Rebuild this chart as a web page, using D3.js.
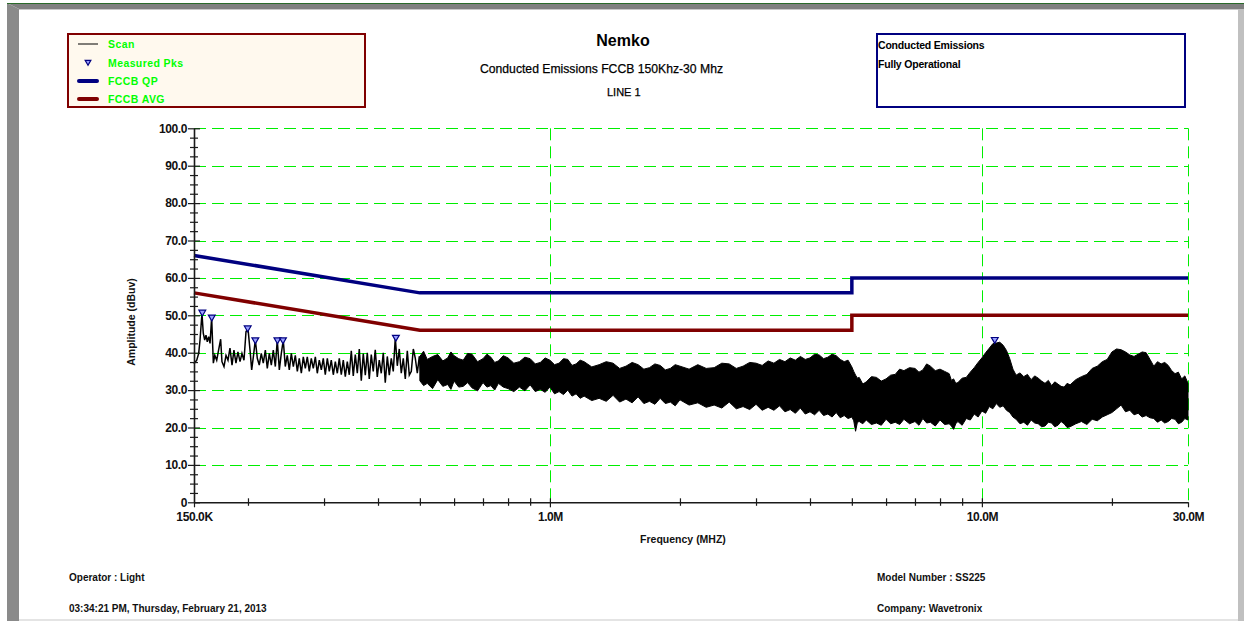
<!DOCTYPE html>
<html>
<head>
<meta charset="utf-8">
<script src="https://cdn.jsdelivr.net/npm/d3@7"></script>
<style>
  html, body { margin: 0; padding: 0; background: #fff; }
  svg { display: block; font-family: "Liberation Sans", Arial, sans-serif; }
</style>
</head>
<body>
<svg id="chart" width="1244" height="621"></svg>
<script>
/* === Conducted emissions scan (Nemko report) === */

// Limit lines (MHz / dBuV)
const limitMhz = [0.15, 0.5, 5, 5, 30];
const qpDb     = [66, 56, 56, 60, 60];
const avgDb    = [56, 46, 46, 50, 50];

// Scan, low band part: trace read point by point (kHz / dBuV)
const scanKhz = [150.0, 151.2, 152.2, 153.8, 154.9, 156.5, 157.6, 158.8, 159.9, 161.0,
  162.2, 163.4, 164.8, 166.3, 167.6, 169.3, 171.0, 172.9, 174.1, 176.0,
  177.9, 179.8, 181.7, 183.7, 185.6, 187.6, 189.6, 191.7, 193.7, 195.8,
  197.9, 200.0, 202.2, 204.0, 205.8, 208.0, 210.2, 212.4, 214.7, 217.0,
  219.4, 221.7, 224.1, 226.5, 228.9, 231.4, 233.8, 236.4, 238.9, 241.4,
  244.0, 246.6, 249.3, 252.0, 254.7, 257.4, 260.2, 262.9, 265.8, 268.6,
  271.5, 274.4, 277.3, 280.3, 283.3, 286.4, 289.4, 292.5, 295.7, 298.8,
  302.0, 305.3, 308.5, 311.8, 315.2, 318.6, 322.0, 325.4, 328.9, 332.4,
  336.0, 339.6, 343.2, 346.9, 350.6, 354.4, 358.2, 362.0, 365.9, 369.8,
  373.8, 377.8, 381.8, 385.9, 390.0, 394.2, 398.4, 402.7, 407.0, 411.4,
  415.8, 420.3, 424.8, 429.3, 433.9, 438.6, 443.3, 448.0, 452.8, 457.7,
  462.6, 467.6, 472.6, 477.7, 482.8, 488.0, 493.2, 498.5, 503.8];
const scanDb = [37.0, 37.6, 38.0, 39.8, 43.4, 50.5, 45.2, 43.4, 44.7, 42.9,
  44.3, 42.5, 49.4, 37.2, 39.3, 38.0, 40.7, 43.6, 37.6, 36.3,
  39.3, 38.0, 41.2, 36.7, 40.7, 37.2, 40.2, 37.6, 39.8, 38.0,
  45.6, 46.5, 40.7, 35.4, 38.9, 43.4, 38.5, 36.7, 39.8, 37.2,
  40.7, 35.8, 39.8, 36.7, 40.7, 36.3, 43.4, 35.4, 39.8, 43.4,
  36.3, 39.3, 35.4, 39.8, 36.3, 39.3, 35.0, 38.5, 34.5, 38.9,
  35.8, 38.9, 35.0, 38.5, 35.8, 38.9, 34.5, 38.0, 35.4, 38.5,
  34.1, 38.5, 35.0, 38.0, 34.1, 37.6, 34.5, 38.5, 34.1, 38.0,
  33.6, 37.6, 34.1, 40.5, 33.8, 39.5, 34.5, 41.0, 32.5, 39.8,
  34.0, 40.0, 33.0, 39.5, 35.0, 40.8, 33.5, 38.0, 34.5, 40.0,
  32.0, 39.0, 34.0, 38.5, 35.0, 44.0, 36.5, 41.0, 34.5, 38.5,
  33.0, 40.5, 34.0, 35.0, 41.0, 38.5, 34.5, 39.0, 33.5];

// Scan, dense part: upper / lower envelope of the trace (MHz / dBuV)
const bandMhz = [0.50, 0.51, 0.52, 0.535, 0.55, 0.565, 0.58, 0.59, 0.60, 0.615,
  0.63, 0.645, 0.66, 0.68, 0.70, 0.715, 0.73, 0.745, 0.76, 0.78,
  0.80, 0.825, 0.85, 0.875, 0.90, 0.925, 0.95, 0.975, 1.00, 1.025,
  1.05, 1.075, 1.10, 1.125, 1.15, 1.175, 1.20, 1.25, 1.30, 1.35,
  1.40, 1.45, 1.50, 1.55, 1.60, 1.65, 1.70, 1.75, 1.80, 1.85,
  1.90, 1.95, 2.00, 2.10, 2.20, 2.30, 2.40, 2.50, 2.60, 2.70,
  2.80, 2.90, 3.00, 3.10, 3.20, 3.30, 3.40, 3.50, 3.60, 3.70,
  3.80, 3.90, 4.00, 4.10, 4.20, 4.30, 4.40, 4.50, 4.60, 4.70,
  4.80, 4.90, 5.00, 5.05, 5.10, 5.15, 5.20, 5.30, 5.40, 5.55,
  5.70, 5.85, 6.00, 6.15, 6.30, 6.45, 6.60, 6.80, 7.00, 7.15,
  7.30, 7.45, 7.60, 7.80, 8.00, 8.20, 8.40, 8.50, 8.60, 8.70,
  8.80, 9.00, 9.20, 9.40, 9.60, 9.80, 10.0, 10.2, 10.4, 10.6,
  10.8, 11.0, 11.2, 11.4, 11.6, 11.8, 12.0, 12.25, 12.5, 12.75,
  13.0, 13.25, 13.5, 13.75, 14.0, 14.25, 14.5, 14.75, 15.0, 15.25,
  15.5, 15.75, 16.0, 16.5, 17.0, 17.5, 18.0, 18.5, 19.0, 19.5,
  20.0, 20.5, 21.0, 21.5, 22.0, 22.5, 23.0, 23.5, 24.0, 24.5,
  25.0, 25.5, 26.0, 26.5, 27.0, 27.5, 28.0, 28.5, 29.0, 29.5,
  30.0];
const bandHi = [39.0, 40.4, 38.2, 39.0, 39.5, 37.8, 38.6, 40.2, 39.2, 38.4,
  38.0, 39.8, 39.6, 37.6, 38.4, 39.6, 38.8, 37.4, 37.8, 39.2,
  38.6, 37.2, 37.6, 38.8, 38.4, 37.0, 37.4, 38.6, 38.0, 36.8,
  37.2, 38.4, 38.2, 36.6, 37.0, 38.0, 37.6, 36.2, 36.8, 37.6,
  37.2, 35.8, 36.4, 37.4, 36.8, 35.6, 36.0, 37.0, 36.6, 35.4,
  35.8, 36.8, 36.4, 35.6, 36.8, 35.8, 36.0, 37.2, 37.0, 35.8,
  36.4, 37.4, 37.2, 36.6, 37.8, 37.2, 38.2, 37.6, 38.6, 38.0,
  39.0, 38.2, 38.6, 39.6, 39.4, 38.4, 38.8, 39.6, 39.2, 38.2,
  37.6, 38.0, 36.2, 35.0, 34.0, 33.2, 33.4, 31.6, 32.2, 33.6,
  33.4, 32.4, 33.0, 34.0, 34.2, 35.6, 35.2, 36.0, 35.8, 34.8,
  35.4, 37.0, 36.4, 35.2, 35.6, 35.0, 34.4, 32.6, 33.0, 31.8,
  32.0, 33.2, 33.4, 34.8, 36.0, 37.4, 38.6, 40.0, 41.2, 42.4,
  42.6, 42.8, 42.0, 40.6, 38.4, 35.6, 34.0, 34.6, 33.6, 34.2,
  32.8, 33.8, 33.2, 32.4, 31.8, 32.6, 31.2, 32.2, 31.6, 31.0,
  30.8, 31.8, 31.4, 32.8, 33.6, 34.2, 35.8, 36.4, 37.6, 38.2,
  40.2, 41.0, 40.8, 40.2, 39.4, 39.0, 39.6, 40.2, 40.0, 38.2,
  36.4, 37.6, 37.0, 37.4, 36.6, 35.2, 34.4, 34.8, 33.0, 33.8,
  31.8];
const bandLo = [32.5, 31.2, 31.8, 30.4, 32.8, 31.0, 31.5, 30.2, 32.4, 30.8,
  31.0, 32.0, 30.6, 29.8, 32.0, 30.8, 31.2, 30.0, 31.8, 30.8,
  30.4, 29.6, 30.8, 29.8, 31.4, 29.6, 30.2, 29.4, 30.8, 29.0,
  29.6, 28.8, 30.0, 28.4, 29.0, 27.8, 28.4, 27.2, 27.8, 27.0,
  28.6, 26.8, 27.6, 26.6, 28.2, 26.4, 27.0, 26.2, 27.8, 26.4,
  26.8, 25.8, 27.4, 26.0, 26.6, 25.4, 26.0, 25.2, 26.8, 25.0,
  25.6, 24.8, 26.2, 24.6, 25.4, 24.6, 25.8, 24.2, 24.8, 23.8,
  25.2, 23.6, 24.2, 23.4, 24.6, 23.2, 23.6, 22.8, 24.0, 22.6,
  23.2, 22.4, 22.8, 21.8, 19.0, 21.4, 21.6, 21.0, 22.0, 20.8,
  21.2, 20.6, 22.2, 21.0, 21.4, 20.8, 22.2, 21.0, 21.6, 20.6,
  22.4, 21.2, 21.4, 20.4, 22.0, 20.8, 21.0, 20.4, 19.5, 21.0,
  21.6, 20.6, 22.4, 22.0, 23.6, 22.8, 24.4, 23.8, 25.6, 25.0,
  26.4, 25.4, 25.8, 24.6, 24.0, 22.8, 22.2, 21.0, 21.4, 20.6,
  22.0, 21.2, 21.0, 20.2, 20.4, 21.4, 21.2, 20.2, 20.6, 21.6,
  21.0, 20.0, 20.2, 21.0, 21.6, 20.8, 22.2, 21.8, 22.8, 23.4,
  24.0, 25.0, 26.0, 24.2, 24.6, 23.4, 23.8, 22.8, 23.2, 22.6,
  22.4, 21.4, 22.0, 21.2, 21.6, 22.4, 22.2, 21.0, 21.4, 22.4,
  22.0];

// Measured peaks (MHz / dBuV)
const peakMhz = [0.1568, 0.1649, 0.1997, 0.208, 0.234, 0.241, 0.440, 10.71];
const peakDb  = [50.7, 49.4, 46.5, 43.3, 43.3, 43.3, 44.0, 43.4];

// Axis ticks
const yMajor = [0, 10, 20, 30, 40, 50, 60, 70, 80, 90, 100];
const yLabels = ["0", "10.0", "20.0", "30.0", "40.0", "50.0", "60.0", "70.0", "80.0", "90.0", "100.0"];
const yMinor = [2.5, 5, 7.5, 12.5, 15, 17.5, 22.5, 25, 27.5, 32.5, 35, 37.5, 42.5, 45, 47.5,
  52.5, 55, 57.5, 62.5, 65, 67.5, 72.5, 75, 77.5, 82.5, 85, 87.5, 92.5, 95, 97.5];
const xMajor = [0.15, 1, 10, 30];
const xLabels = ["150.0K", "1.0M", "10.0M", "30.0M"];
const xMinor = [0.2, 0.3, 0.4, 0.5, 0.6, 0.7, 0.8, 0.9, 2, 3, 4, 5, 6, 7, 8, 9, 20];
const yGrid = [10, 20, 30, 40, 50, 60, 70, 80, 90, 100];
const xGrid = [1, 10, 30];

// Legend
const legendNames = ["Scan", "Measured Pks", "FCCB QP", "FCCB AVG"];

const QP_COLOR = "#000080";
const AVG_COLOR = "#800000";
const GRID_COLOR = "#00ee00";
const FONT = "'Liberation Sans', Arial, sans-serif";

const svg = d3.select("#chart");

// --- Page frame (bevelled border) ---
svg.append("polygon").attr("points", "7,3 1244,3 1244,9 19,9").attr("fill", "#808080");
svg.append("polygon").attr("points", "7,3 19,9 19,621 7,621").attr("fill", "#8a8a8a");
svg.append("line").attr("x1", 7).attr("x2", 1244).attr("y1", 3.5).attr("y2", 3.5)
  .attr("stroke", "#2a6a2a").attr("stroke-width", 1);
svg.append("line").attr("x1", 19).attr("x2", 1238).attr("y1", 9.5).attr("y2", 9.5)
  .attr("stroke", "#c8c8c8").attr("stroke-width", 1);
svg.append("rect").attr("x", 1238).attr("y", 9).attr("width", 6).attr("height", 612).attr("fill", "#c0c0c0");
svg.append("rect").attr("x", 19).attr("y", 619).attr("width", 1219).attr("height", 2).attr("fill", "#e4e4e4");

// --- Scales ---
const x = d3.scaleLog().domain([0.15, 30]).range([194, 1188]);
const y = d3.scaleLinear().domain([0, 100]).range([502.3, 128.3]);

// --- Grid ---
const grid = svg.append("g")
  .attr("stroke", GRID_COLOR)
  .attr("stroke-width", 1)
  .attr("stroke-dasharray", "12,6");
grid.selectAll("line.h").data(yGrid).join("line").attr("class", "h")
  .attr("x1", x(0.15)).attr("x2", x(30))
  .attr("y1", d => Math.round(y(d)) + 0.5).attr("y2", d => Math.round(y(d)) + 0.5);
grid.selectAll("line.v").data(xGrid).join("line").attr("class", "v")
  .attr("x1", d => Math.round(x(d)) + 0.5).attr("x2", d => Math.round(x(d)) + 0.5)
  .attr("y1", y(100)).attr("y2", y(0));

// --- Scan trace ---
const bandIdx = d3.range(bandMhz.length);
svg.append("path")
  .attr("d", d3.area()
    .x(i => x(bandMhz[i]))
    .y0(i => y(bandLo[i]))
    .y1(i => y(bandHi[i]))(bandIdx))
  .attr("fill", "#000")
  .attr("stroke", "#000")
  .attr("stroke-width", 1)
  .attr("stroke-linejoin", "miter");

const scanIdx = d3.range(scanKhz.length);
svg.append("path")
  .attr("d", d3.line()
    .x(i => x(scanKhz[i] / 1000))
    .y(i => y(scanDb[i]))(scanIdx))
  .attr("fill", "none")
  .attr("stroke", "#000")
  .attr("stroke-width", 1.5);

// --- Limit lines ---
const limitLine = vals => d3.line()
  .x(i => x(limitMhz[i]))
  .y(i => y(vals[i]))(d3.range(limitMhz.length));
svg.append("path").attr("d", limitLine(qpDb))
  .attr("fill", "none").attr("stroke", QP_COLOR).attr("stroke-width", 3.5);
svg.append("path").attr("d", limitLine(avgDb))
  .attr("fill", "none").attr("stroke", AVG_COLOR).attr("stroke-width", 3.5);

// --- Measured peaks ---
const tri = d3.symbol().type(d3.symbolTriangle).size(20);
svg.append("g").selectAll("path")
  .data(d3.range(peakMhz.length))
  .join("path")
    .attr("d", tri)
    .attr("transform", i => `translate(${x(peakMhz[i])},${y(peakDb[i]) - 0.5}) rotate(180)`)
    .attr("fill", "#9aa0ff")
    .attr("stroke", QP_COLOR)
    .attr("stroke-width", 1.2);

// --- Axes ---
const axisColor = "#1a1a1a";
function styleAxis(g) {
  g.selectAll(".domain").attr("stroke", axisColor).attr("stroke-width", 1.6);
  g.selectAll(".tick line").attr("stroke", axisColor).attr("stroke-width", 1.2);
  g.selectAll("text")
    .attr("fill", "#111")
    .style("font-family", FONT)
    .style("font-size", "12px")
    .style("font-weight", "bold")
    .style("letter-spacing", "-0.4px");
}

// X axis: ticks cross the axis line
const xg = svg.append("g").attr("transform", `translate(0,${y(0)})`);
xg.call(d3.axisBottom(x).tickValues(xMajor).tickSize(5).tickSizeOuter(0)
  .tickFormat((d, i) => xLabels[i]));
xg.selectAll("text").attr("y", 10);
styleAxis(xg);
const xg2 = svg.append("g").attr("transform", `translate(0,${y(0)})`);
xg2.call(d3.axisBottom(x).tickValues(xMinor).tickSize(3.5).tickFormat(""));
xg2.select(".domain").remove();
styleAxis(xg2);
const xg3 = svg.append("g").attr("transform", `translate(0,${y(0)})`);
xg3.call(d3.axisTop(x).tickValues(xMajor.slice(1, 3).concat(xMinor)).tickSize(4).tickFormat(""));
xg3.select(".domain").remove();
styleAxis(xg3);

// Y axis: ticks cross the axis line
const yg = svg.append("g").attr("transform", `translate(${x(0.15)},0)`);
yg.call(d3.axisLeft(y).tickValues(yMajor).tickSize(6).tickSizeOuter(0)
  .tickFormat((d, i) => yLabels[i]));
yg.selectAll("text").attr("x", -7);
styleAxis(yg);
const yg2 = svg.append("g").attr("transform", `translate(${x(0.15)},0)`);
yg2.call(d3.axisRight(y).tickValues(yMajor).tickSize(6).tickFormat(""));
yg2.select(".domain").remove();
styleAxis(yg2);
const yg3 = svg.append("g").attr("transform", `translate(${x(0.15)},0)`);
yg3.call(d3.axisLeft(y).tickValues(yMinor).tickSize(4).tickFormat(""));
yg3.select(".domain").remove();
styleAxis(yg3);
const yg4 = svg.append("g").attr("transform", `translate(${x(0.15)},0)`);
yg4.call(d3.axisRight(y).tickValues(yMinor).tickSize(4).tickFormat(""));
yg4.select(".domain").remove();
styleAxis(yg4);

// Axis titles
svg.append("text")
  .attr("x", 683).attr("y", 543)
  .attr("text-anchor", "middle")
  .style("font-family", FONT).style("font-size", "10.5px").style("font-weight", "bold")
  .attr("fill", "#111")
  .text("Frequency (MHZ)");
svg.append("text")
  .attr("transform", "translate(135,322) rotate(-90)")
  .attr("text-anchor", "middle")
  .style("font-family", FONT).style("font-size", "10.5px").style("font-weight", "bold")
  .attr("fill", "#111")
  .text("Amplitude (dBuv)");

// --- Titles ---
svg.append("text").attr("x", 623).attr("y", 46).attr("text-anchor", "middle")
  .style("font-family", FONT).style("font-size", "16px").style("font-weight", "bold")
  .text("Nemko");
svg.append("text").attr("x", 480).attr("y", 73)
  .attr("textLength", 243).attr("lengthAdjust", "spacingAndGlyphs")
  .style("font-family", FONT).style("font-size", "12.5px")
  .style("stroke", "#000").style("stroke-width", 0.25)
  .text("Conducted Emissions FCCB 150Khz-30 Mhz");
svg.append("text").attr("x", 607).attr("y", 96)
  .style("font-family", FONT).style("font-size", "11px")
  .style("stroke", "#000").style("stroke-width", 0.25)
  .text("LINE 1");

// --- Legend box ---
svg.append("rect")
  .attr("x", 68).attr("y", 34).attr("width", 297).attr("height", 73)
  .attr("fill", "#fff9ee").attr("stroke", AVG_COLOR).attr("stroke-width", 2);
const legendRowY = [44, 63, 81, 99];
const lg = svg.append("g");
lg.append("line").attr("x1", 78).attr("x2", 98).attr("y1", legendRowY[0]).attr("y2", legendRowY[0])
  .attr("stroke", "#000").attr("stroke-width", 1);
lg.append("path").attr("d", d3.symbol().type(d3.symbolTriangle).size(14))
  .attr("transform", `translate(88,${legendRowY[1] - 1}) rotate(180)`)
  .attr("fill", "#9aa0ff").attr("stroke", QP_COLOR).attr("stroke-width", 1.2);
lg.append("line").attr("x1", 79).attr("x2", 97).attr("y1", legendRowY[2]).attr("y2", legendRowY[2])
  .attr("stroke", QP_COLOR).attr("stroke-width", 4).attr("stroke-linecap", "round");
lg.append("line").attr("x1", 79).attr("x2", 97).attr("y1", legendRowY[3]).attr("y2", legendRowY[3])
  .attr("stroke", AVG_COLOR).attr("stroke-width", 4).attr("stroke-linecap", "round");
lg.selectAll("text").data(legendNames).join("text")
  .attr("x", 108).attr("y", (d, i) => legendRowY[i] + 4)
  .style("font-family", FONT).style("font-size", "10.5px").style("font-weight", "bold")
  .style("letter-spacing", "0.4px")
  .attr("fill", "#00ff00")
  .text(d => d);

// --- Info box (top right) ---
svg.append("rect")
  .attr("x", 877).attr("y", 34).attr("width", 308).attr("height", 73)
  .attr("fill", "#fff").attr("stroke", QP_COLOR).attr("stroke-width", 2);
const infoLines = ["Conducted Emissions", "Fully Operational"];
svg.append("g").selectAll("text").data(infoLines).join("text")
  .attr("x", 878).attr("y", (d, i) => 48.5 + i * 19)
  .style("font-family", FONT).style("font-size", "10.5px").style("font-weight", "bold")
  .style("letter-spacing", "-0.2px")
  .attr("fill", "#000")
  .text(d => d);

// --- Footer ---
const footLeft = ["Operator : Light", "03:34:21 PM, Thursday, February 21, 2013"];
const footRight = ["Model Number : SS225", "Company: Wavetronix"];
const footY = [581, 612];
svg.append("g").selectAll("text").data(footLeft).join("text")
  .attr("x", 69).attr("y", (d, i) => footY[i])
  .style("font-family", FONT).style("font-size", "10px").style("font-weight", "bold")
  .attr("fill", "#111")
  .text(d => d);
svg.append("g").selectAll("text").data(footRight).join("text")
  .attr("x", 877).attr("y", (d, i) => footY[i])
  .style("font-family", FONT).style("font-size", "10px").style("font-weight", "bold")
  .attr("fill", "#111")
  .text(d => d);
</script>
</body>
</html>
